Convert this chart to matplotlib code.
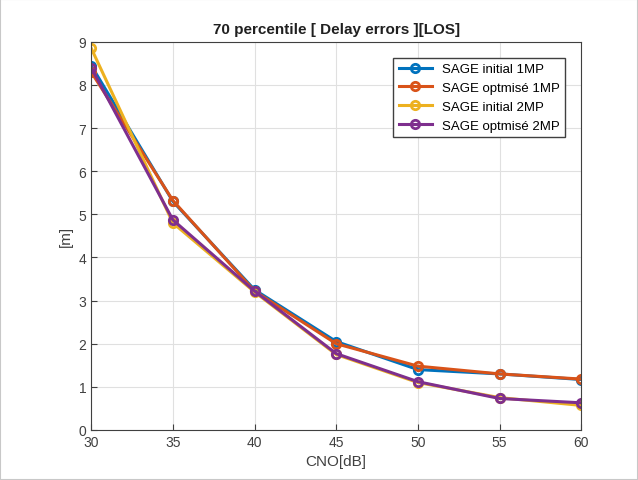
import matplotlib
matplotlib.use("Agg")
import matplotlib.pyplot as plt

plt.rcParams['font.family'] = ['Liberation Sans', 'DejaVu Sans']

cno = [30, 35, 40, 45, 50, 55, 60]
sage_init_1mp = [8.45, 5.30, 3.25, 2.05, 1.40, 1.30, 1.17]
sage_opt_1mp = [8.30, 5.32, 3.22, 2.00, 1.48, 1.30, 1.18]
sage_init_2mp = [8.85, 4.80, 3.20, 1.75, 1.10, 0.75, 0.57]
sage_opt_2mp = [8.40, 4.87, 3.22, 1.77, 1.12, 0.73, 0.63]

labels = ['SAGE initial 1MP', 'SAGE optmisé 1MP', 'SAGE initial 2MP', 'SAGE optmisé 2MP']
colors = ['#0072BD', '#D95319', '#EDB120', '#7E2F8E']
series = [sage_init_1mp, sage_opt_1mp, sage_init_2mp, sage_opt_2mp]

fig = plt.figure(figsize=(6.38, 4.81), dpi=100)
ax = fig.add_axes([0.143, 0.104, 0.768, 0.807])
for s, c, l in zip(series, colors, labels):
    ax.plot(cno, s, color=c, lw=2.2, marker='o', ms=6, mfc='none', mew=2, label=l)

ax.set_xlim(30, 60)
ax.set_ylim(0, 9)
ax.set_xticks(cno)
ax.set_yticks(range(0, 10))
ax.grid(True, color='#e0e0e0', lw=0.8)
ax.set_axisbelow(True)
for sp in ax.spines.values():
    sp.set_color('#404040')
ax.tick_params(colors='#404040', labelsize=10, direction='in', length=4)
ax.set_xlabel('CNO[dB]', fontsize=11, color='#404040')
ax.set_ylabel('[m]', fontsize=11, color='#404040')
ax.set_title('70 percentile [ Delay errors ][LOS]', fontsize=11, fontweight='bold', color='#202020')
leg = ax.legend(loc='upper right', fontsize=9.5, fancybox=False, framealpha=1,
                edgecolor='#404040', handlelength=2.5, borderaxespad=1.2)
fig.patches.append(plt.Rectangle((0, 0), 1, 1, transform=fig.transFigure, fill=False,
                                 edgecolor='#c8c8c8', lw=1.5))
fig.savefig('out.png', dpi=100)
